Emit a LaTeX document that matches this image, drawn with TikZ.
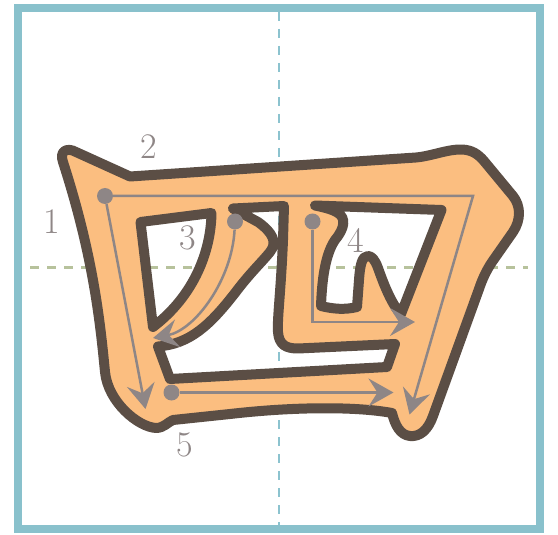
\documentclass[tikz,border=0pt]{standalone}
\usetikzlibrary{arrows.meta}
\definecolor{rahmenfarbe}{HTML}{89C1CC}
\definecolor{hilfsblau}{HTML}{8CC3CF}
\definecolor{hilfsgruen}{HTML}{B7C29C}
\definecolor{koerper}{HTML}{FBBE80}
\definecolor{kontur}{HTML}{5B4E45}
\definecolor{fuehrung}{HTML}{8E8686}
\begin{document}
\begin{tikzpicture}[
      x=1pt, y=-1pt,
      rahmen/.style={draw=rahmenfarbe, line width=8pt},
      hilfslinie/.style={line width=2.6pt, dash pattern=on 9pt off 8pt},
      zeichen/.style={fill=koerper, draw=kontur, line width=10pt, line join=round, even odd rule},
      punkt/.style={circle, fill=fuehrung, inner sep=0pt, minimum size=16pt},
      strich/.style={draw=fuehrung, line width=2.5pt, -{Stealth[length=25pt, width=28pt, inset=9pt]}},
      nummer/.style={text=fuehrung, inner sep=0pt, font=\fontsize{36}{36}\selectfont}
    ]
      \useasboundingbox (0,0) rectangle (558,535);
      \draw[rahmen] (18,8) rectangle (540,529);
      \draw[hilfslinie, draw=hilfsblau] (279,12) -- (279,525);
      \draw[hilfslinie, draw=hilfsgruen] (30,267.5) -- (528,267.5);

      % Zeichen mit drei Aussparungen
      \filldraw[zeichen]
        (63,162) .. controls (59,151) and (67,147) .. (76,152)
        -- (130,176.5) -- (416,157.5)
        .. controls (432,156) and (448,149) .. (462,149.5)
        .. controls (472,150) and (478,154) .. (484,161)
        -- (513,196) .. controls (521,206) and (521,220) .. (513,232)
        -- (492,262) .. controls (486,271) and (482,280) .. (479,289)
        -- (433,416) .. controls (428,430) and (420,437) .. (410,436)
        .. controls (400,435) and (395,425) .. (392,413)
        .. controls (360,407) and (300,406) .. (230,414)
        -- (173,420) .. controls (168,422) and (164,428) .. (156,428)
        .. controls (138,427) and (108,402) .. (105,372)
        .. controls (100,320) and (93,255) .. (63,162) -- cycle
        (140.5,222) -- (211.5,213) .. controls (211,250) and (195,295) .. (153,327) -- cycle
        (233,208.5) -- (284,206) -- (283,240)
        .. controls (281,290) and (277,320) .. (278,332)
        .. controls (279,345) and (286,348.5) .. (298,348.5)
        -- (395,344) -- (387,367) -- (170,379) -- (158,346.5)
        .. controls (190,344) and (210,325) .. (235,293)
        .. controls (250,273) and (262,262) .. (270,252)
        .. controls (278,242) and (272,232) .. (258,222) -- cycle
        (315,205.5) -- (441.5,210) -- (401,314)
        .. controls (392,305) and (384,285) .. (378,268)
        .. controls (375,260) and (372,256) .. (368,256)
        .. controls (362,256) and (360,265) .. (359,280)
        -- (357,307) .. controls (345,310) and (333,309) .. (321,306)
        .. controls (322,280) and (325,255) .. (335,240)
        .. controls (345,228) and (346,218) .. (338,213)
        .. controls (332,209) and (322,207) .. (315,205.5) -- cycle;

      % Strichfolge
      \node[punkt] (p1) at (105,196) {};
      \node[punkt] (p3) at (235,221.5) {};
      \node[punkt] (p4) at (312.5,221.5) {};
      \node[punkt] (p5) at (171.5,392.5) {};
      \coordinate (e1) at (145.5,409);
      \coordinate (k2) at (473,196);
      \coordinate (e2) at (409.5,414.5);
      \coordinate (e3) at (153,338);
      \coordinate (k4) at (312.5,322);
      \coordinate (e4) at (415,322);
      \coordinate (e5) at (393.5,392.5);
      \draw[strich] (p1) -- (e1);
      \draw[strich] (p1) -- (k2) -- (e2);
      \draw[strich] (p3) .. controls (232,280) and (195,330) .. (e3);
      \draw[strich] (p4) -- (k4) -- (e4);
      \draw[strich] (p5) -- (e5);

      \node[nummer] (n1) at (52,222) {1};
      \node[nummer] (n2) at (149,147) {2};
      \node[nummer] (n3) at (188,238) {3};
      \node[nummer] (n4) at (356,240) {4};
      \node[nummer] (n5) at (185,445) {5};
    \end{tikzpicture}
\end{document}
